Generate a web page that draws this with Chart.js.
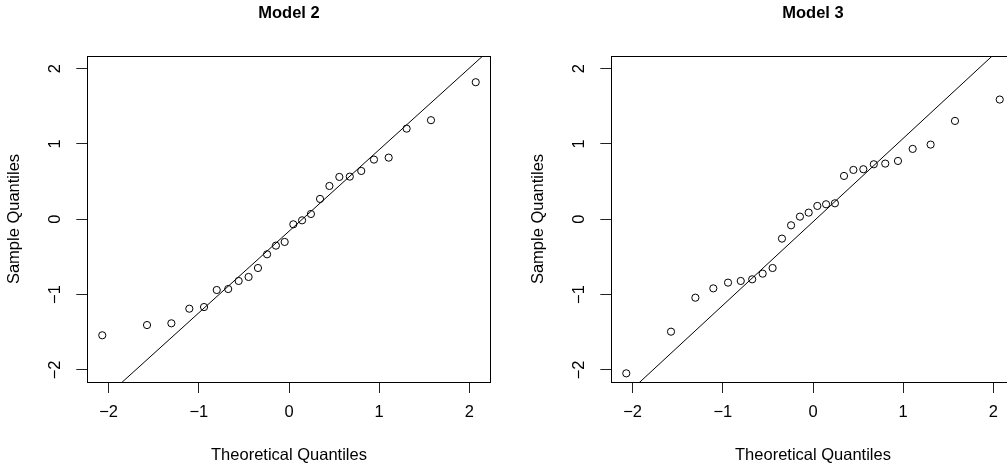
<!DOCTYPE html>
<html>
<head>
<meta charset="utf-8">
<script src="https://cdn.jsdelivr.net/npm/chart.js@4.4.1/dist/chart.umd.min.js"></script>
<style>
  html, body { margin: 0; padding: 0; background: #fff; width: 1007px; height: 469px; overflow: hidden; }
  .panel { position: absolute; top: 0; }
</style>
</head>
<body>
<canvas id="c2" class="panel" width="524" height="469" style="left:0px"></canvas>
<canvas id="c3" class="panel" width="524" height="469" style="left:524px"></canvas>
<script>
// ---- data ----
const titles = ["Model 2", "Model 3"];
const xAxisTitle = "Theoretical Quantiles";
const yAxisTitle = "Sample Quantiles";
const tickValues = [-2, -1, 0, 1, 2];

const theoretical = [-2.070, -1.574, -1.304, -1.105, -0.942, -0.801, -0.674, -0.558, -0.448, -0.344,
  -0.243, -0.145, -0.048, 0.048, 0.145, 0.243, 0.344, 0.448, 0.558, 0.674,
  0.801, 0.942, 1.105, 1.304, 1.574, 2.070];

const sampleModel2 = [-1.540, -1.404, -1.381, -1.187, -1.165, -0.939, -0.926, -0.819, -0.766, -0.647,
  -0.465, -0.350, -0.301, -0.067, -0.014, 0.070, 0.270, 0.442, 0.562, 0.566,
  0.641, 0.792, 0.818, 1.203, 1.315, 1.819];

const sampleModel3 = [-2.045, -1.492, -1.041, -0.917, -0.841, -0.819, -0.797, -0.722, -0.647, -0.257,
  -0.080, 0.035, 0.088, 0.177, 0.199, 0.212, 0.575, 0.655, 0.664, 0.730,
  0.739, 0.774, 0.934, 0.991, 1.305, 1.589];

// reference line (qqline): intercept and slope per model
const lineIntercepts = [-0.159, -0.034];
const lineSlopes = [1.083, 1.108];

// axis ranges
const xRange = [-2.236, 2.236];
const yRange = [-2.160, 2.167];

// ---- drawing ----
const FONT = "'Liberation Sans', Arial, Helvetica, sans-serif";
const FS = 16.5;

const boxPlugin = {
  id: 'box',
  afterDatasetsDraw(chart) {
    const a = chart.chartArea, ctx = chart.ctx;
    ctx.save();
    ctx.strokeStyle = '#000';
    ctx.lineWidth = 1;
    ctx.strokeRect(Math.round(a.left) + 0.5, Math.round(a.top) + 0.5,
      Math.round(a.right - a.left), Math.round(a.bottom - a.top));
    ctx.restore();
  }
};

function fmt(v) { return String(v).replace('-', '\u2212'); }

function makeChart(id, title, sample, intercept, slope) {
  const pts = theoretical.map((x, i) => ({ x: x, y: sample[i] }));
  const linePts = xRange.map(x => ({ x: x, y: intercept + slope * x }));
  return new Chart(document.getElementById(id), {
    type: 'scatter',
    data: {
      datasets: [
        {
          data: pts,
          pointStyle: 'circle',
          pointRadius: 3.6,
          pointBorderWidth: 1,
          pointBackgroundColor: 'rgba(0,0,0,0)',
          pointBorderColor: '#000',
          pointHoverRadius: 3.6
        },
        {
          type: 'line',
          data: linePts,
          borderColor: '#000',
          borderWidth: 1,
          pointRadius: 0,
          fill: false
        }
      ]
    },
    options: {
      responsive: false,
      animation: false,
      devicePixelRatio: 1,
      events: [],
      layout: { padding: { left: 0, right: 33.3, top: 0, bottom: 0 } },
      plugins: {
        legend: { display: false },
        tooltip: { enabled: false },
        title: {
          display: true,
          text: title,
          color: '#000',
          fullSize: false,
          font: { family: FONT, size: FS, weight: 'bold', lineHeight: 1.2 },
          padding: { top: 3.3, bottom: 32.9 }
        }
      },
      scales: {
        x: {
          type: 'linear',
          min: xRange[0], max: xRange[1],
          afterFit(s) { s.height = 87; },
          afterBuildTicks(s) { s.ticks = tickValues.map(v => ({ value: v })); },
          border: { display: false },
          grid: { display: true, drawOnChartArea: false, drawTicks: true, tickLength: 11, color: '#222', lineWidth: 1 },
          ticks: {
            color: '#000', padding: 9.6, maxRotation: 0, minRotation: 0,
            font: { family: FONT, size: FS, lineHeight: 1.2 },
            callback: v => fmt(v)
          },
          title: {
            display: true, text: xAxisTitle, color: '#000',
            font: { family: FONT, size: FS, lineHeight: 1.2 },
            padding: { top: 0, bottom: 4.1 }
          }
        },
        y: {
          type: 'linear',
          min: yRange[0], max: yRange[1],
          afterFit(s) { s.width = 87.3; },
          afterBuildTicks(s) { s.ticks = tickValues.map(v => ({ value: v })); },
          border: { display: false },
          grid: { display: true, drawOnChartArea: false, drawTicks: true, tickLength: 11, color: '#222', lineWidth: 1 },
          ticks: {
            color: '#000', padding: 11.1, minRotation: 90, maxRotation: 90, crossAlign: 'center',
            font: { family: FONT, size: FS, lineHeight: 1.2 },
            callback: v => fmt(v)
          },
          title: {
            display: true, text: yAxisTitle, color: '#000',
            font: { family: FONT, size: FS, lineHeight: 1.2 },
            padding: { top: 5, bottom: 0 }
          }
        }
      }
    },
    plugins: [boxPlugin]
  });
}

makeChart('c2', titles[0], sampleModel2, lineIntercepts[0], lineSlopes[0]);
makeChart('c3', titles[1], sampleModel3, lineIntercepts[1], lineSlopes[1]);
</script>
</body>
</html>
